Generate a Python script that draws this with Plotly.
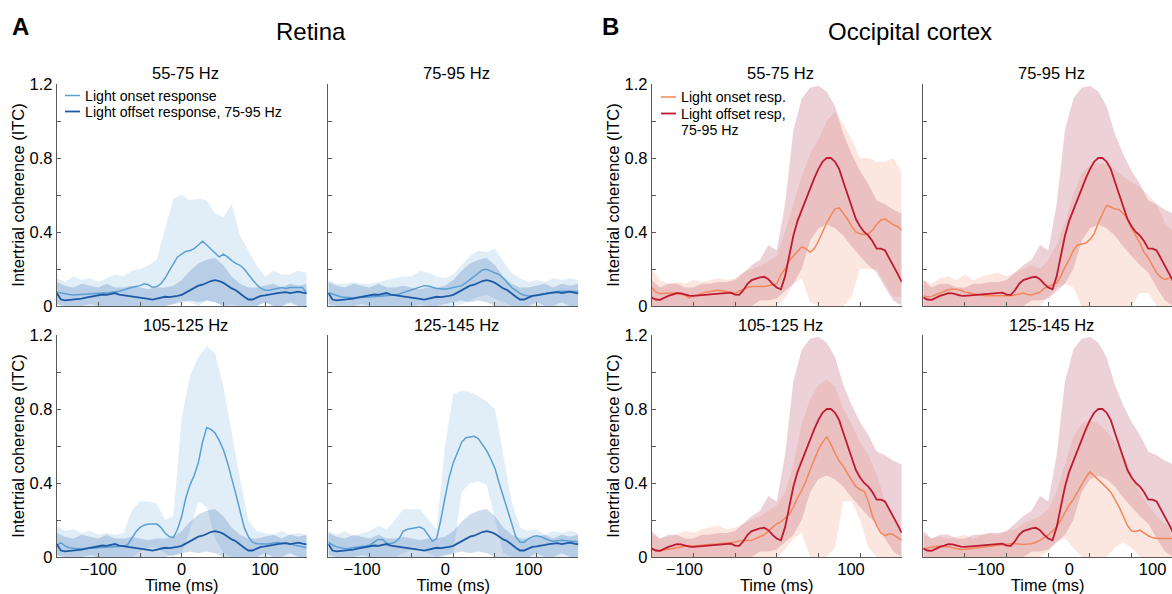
import plotly.graph_objects as go

# ---------------- data (time in ms, ITC values) ----------------
T5 = list(range(-150, 151, 5))     # grid of mean curves
T10 = list(range(-150, 151, 10))   # grid of band edges

# Retina: light-offset response (75-95 Hz), shown in every retina panel
RET_OFF_MEAN = [0.07, 0.035, 0.03, 0.032, 0.035, 0.038, 0.04, 0.045, 0.05, 0.055,
                0.06, 0.062, 0.06, 0.065, 0.07, 0.062, 0.058, 0.055, 0.05, 0.048,
                0.045, 0.04, 0.038, 0.035, 0.04, 0.045, 0.05, 0.048, 0.05, 0.055,
                0.06, 0.072, 0.085, 0.1, 0.11, 0.115, 0.125, 0.135, 0.14, 0.135,
                0.125, 0.11, 0.095, 0.085, 0.065, 0.05, 0.035, 0.035, 0.045, 0.055,
                0.058, 0.06, 0.065, 0.07, 0.072, 0.075, 0.07, 0.075, 0.078, 0.072,
                0.068]
RET_OFF_HI = [0.13, 0.11, 0.10, 0.12, 0.11, 0.10, 0.12, 0.10, 0.10, 0.11,
              0.10, 0.09, 0.10, 0.10, 0.11, 0.14, 0.19, 0.23, 0.25, 0.26,
              0.22, 0.16, 0.12, 0.10, 0.10, 0.11, 0.12, 0.10, 0.12, 0.11, 0.12]
RET_OFF_LO = [0.01, 0, 0, 0, 0.01, 0, 0, 0, 0, 0,
              0, 0, 0, 0, 0.01, 0.02, 0.03, 0.02, 0.03, 0.02,
              0, 0, 0, 0, 0, 0.02, 0, 0, 0.02, 0, 0]

# Retina: light-onset responses per band
RET_ON_55_MEAN = [0.075, 0.07, 0.065, 0.062, 0.06, 0.062, 0.062, 0.064, 0.065, 0.067,
                  0.068, 0.07, 0.07, 0.072, 0.075, 0.08, 0.086, 0.095, 0.1, 0.105,
                  0.11, 0.12, 0.115, 0.1, 0.105, 0.12, 0.15, 0.19, 0.23, 0.265,
                  0.28, 0.295, 0.3, 0.31, 0.33, 0.35, 0.33, 0.31, 0.29, 0.265,
                  0.28, 0.265, 0.245, 0.23, 0.22, 0.2, 0.17, 0.14, 0.115, 0.095,
                  0.085, 0.085, 0.09, 0.095, 0.1, 0.095, 0.1, 0.1, 0.1, 0.1,
                  0.07]
RET_ON_55_HI = [0.15, 0.13, 0.16, 0.14, 0.15, 0.13, 0.15, 0.17, 0.16, 0.19,
                0.2, 0.22, 0.25, 0.42, 0.58, 0.6, 0.57, 0.58, 0.57, 0.5,
                0.48, 0.55, 0.38, 0.3, 0.22, 0.16, 0.19, 0.17, 0.17, 0.19, 0.18]
RET_ON_55_LO = [0.01, 0, 0, 0, 0, 0, 0, 0, 0, 0,
                0, 0, 0, 0, 0.01, 0.03, 0.02, 0, 0.03, 0.02,
                0, 0.01, 0, 0, 0, 0.02, 0, 0, 0.01, 0, 0]

RET_ON_75_MEAN = [0.072, 0.065, 0.055, 0.05, 0.047, 0.045, 0.045, 0.046, 0.045, 0.047,
                  0.048, 0.05, 0.05, 0.05, 0.052, 0.055, 0.06, 0.065, 0.072, 0.08,
                  0.088, 0.095, 0.1, 0.11, 0.108, 0.1, 0.095, 0.093, 0.09, 0.095,
                  0.1, 0.105, 0.11, 0.125, 0.143, 0.16, 0.18, 0.195, 0.198, 0.19,
                  0.182, 0.17, 0.15, 0.125, 0.1, 0.085, 0.068, 0.058, 0.054, 0.056,
                  0.06, 0.065, 0.07, 0.072, 0.075, 0.078, 0.08, 0.08, 0.08, 0.078,
                  0.078]
RET_ON_75_HI = [0.14, 0.12, 0.12, 0.13, 0.12, 0.12, 0.13, 0.14, 0.15, 0.16,
                0.16, 0.19, 0.18, 0.16, 0.15, 0.17, 0.22, 0.27, 0.3, 0.29,
                0.31, 0.24, 0.18, 0.15, 0.13, 0.14, 0.13, 0.15, 0.14, 0.15, 0.14]
RET_ON_75_LO = [0, 0, 0, 0, 0, 0, 0, 0, 0, 0,
                0, 0.01, 0, 0, 0, 0, 0.01, 0.03, 0.05, 0.06,
                0.04, 0.02, 0, 0, 0, 0, 0, 0, 0, 0, 0]

RET_ON_105_MEAN = [0.063, 0.078, 0.06, 0.05, 0.047, 0.045, 0.045, 0.046, 0.047, 0.05,
                   0.052, 0.054, 0.055, 0.055, 0.056, 0.057, 0.06, 0.065, 0.1, 0.135,
                   0.16, 0.172, 0.178, 0.18, 0.178, 0.16, 0.13, 0.11, 0.105, 0.15,
                   0.22, 0.32, 0.39, 0.44, 0.51, 0.62, 0.70, 0.69, 0.67, 0.63,
                   0.58, 0.51, 0.43, 0.34, 0.25, 0.16, 0.11, 0.08, 0.072, 0.07,
                   0.07, 0.072, 0.075, 0.078, 0.075, 0.073, 0.072, 0.065, 0.058, 0.055,
                   0.05]
RET_ON_105_HI = [0.17, 0.14, 0.15, 0.13, 0.14, 0.12, 0.13, 0.12, 0.13, 0.25,
                 0.3, 0.3, 0.29, 0.2, 0.22, 0.75, 0.98, 1.08, 1.14, 1.1,
                 0.92, 0.66, 0.42, 0.2, 0.14, 0.13, 0.12, 0.14, 0.12, 0.13, 0.12]
RET_ON_105_LO = [0, 0, 0, 0, 0, 0, 0, 0, 0, 0,
                 0.03, 0.05, 0.05, 0.02, 0, 0.02, 0.15, 0.3, 0.27, 0.1,
                 0.02, 0, 0, 0, 0, 0, 0, 0, 0, 0, 0]

RET_ON_125_MEAN = [0.08, 0.065, 0.055, 0.048, 0.045, 0.047, 0.05, 0.052, 0.055, 0.06,
                   0.065, 0.08, 0.095, 0.095, 0.075, 0.072, 0.08, 0.1, 0.14, 0.15,
                   0.153, 0.158, 0.162, 0.15, 0.12, 0.085, 0.1, 0.2, 0.32, 0.43,
                   0.51, 0.57, 0.62, 0.645, 0.65, 0.652, 0.64, 0.61, 0.575, 0.53,
                   0.48, 0.4, 0.33, 0.25, 0.18, 0.11, 0.08, 0.08, 0.098, 0.11,
                   0.115, 0.11, 0.1, 0.09, 0.085, 0.088, 0.09, 0.088, 0.085, 0.083,
                   0.083]
RET_ON_125_HI = [0.14, 0.12, 0.14, 0.11, 0.13, 0.14, 0.17, 0.15, 0.2, 0.26,
                 0.26, 0.26, 0.2, 0.15, 0.6, 0.88, 0.9, 0.89, 0.87, 0.84,
                 0.8, 0.55, 0.3, 0.16, 0.14, 0.15, 0.12, 0.14, 0.13, 0.14, 0.13]
RET_ON_125_LO = [0, 0, 0, 0, 0, 0, 0, 0, 0, 0.02,
                 0.04, 0.05, 0.02, 0, 0, 0.02, 0.35, 0.4, 0.41, 0.39,
                 0.2, 0.02, 0, 0, 0, 0, 0, 0, 0, 0, 0]

# Occipital cortex: light-offset response (75-95 Hz), shown in every cortex panel
OCC_OFF_MEAN = [0.045, 0.035, 0.033, 0.045, 0.055, 0.062, 0.07, 0.068, 0.062, 0.056,
                0.055, 0.057, 0.058, 0.06, 0.062, 0.064, 0.066, 0.068, 0.07, 0.072,
                0.062, 0.06, 0.085, 0.12, 0.14, 0.148, 0.155, 0.158, 0.145, 0.12,
                0.1, 0.09, 0.16, 0.27, 0.38, 0.46, 0.52, 0.58, 0.63, 0.69,
                0.74, 0.78, 0.8, 0.8, 0.78, 0.74, 0.67, 0.6, 0.54, 0.47,
                0.43, 0.4, 0.38, 0.35, 0.31, 0.31, 0.3, 0.26, 0.22, 0.175,
                0.13]
OCC_OFF_HI = [0.14, 0.1, 0.12, 0.12, 0.1, 0.1, 0.12, 0.12, 0.13, 0.13,
              0.14, 0.18, 0.22, 0.25, 0.33, 0.3, 0.55, 0.95, 1.12, 1.18,
              1.19, 1.16, 1.08, 0.93, 0.82, 0.73, 0.66, 0.57, 0.55, 0.52, 0.5]
OCC_OFF_LO = [0, 0, 0, 0, 0, 0, 0, 0, 0, 0,
              0, 0, 0, 0.03, 0.03, 0.04, 0.08, 0.12, 0.2, 0.35,
              0.42, 0.44, 0.42, 0.38, 0.32, 0.27, 0.22, 0.18, 0.1, 0.03, 0]

# Occipital cortex: light-onset responses per band
OCC_ON_55_MEAN = [0.1, 0.075, 0.068, 0.068, 0.07, 0.072, 0.07, 0.065, 0.058, 0.045,
                  0.055, 0.06, 0.068, 0.075, 0.078, 0.08, 0.085, 0.082, 0.077, 0.07,
                  0.068, 0.08, 0.09, 0.1, 0.105, 0.105, 0.103, 0.105, 0.11, 0.115,
                  0.12, 0.17, 0.2, 0.245, 0.27, 0.3, 0.32, 0.31, 0.29, 0.31,
                  0.35, 0.4, 0.45, 0.49, 0.525, 0.53, 0.5, 0.47, 0.43, 0.4,
                  0.39, 0.385, 0.39, 0.41, 0.44, 0.465, 0.47, 0.455, 0.44, 0.43,
                  0.41]
OCC_ON_55_HI = [0.2, 0.14, 0.12, 0.13, 0.12, 0.14, 0.13, 0.14, 0.15, 0.14,
                0.15, 0.18, 0.2, 0.22, 0.24, 0.27, 0.4, 0.55, 0.7, 0.82,
                0.9, 1.0, 1.05, 0.98, 0.9, 0.8, 0.8, 0.78, 0.78, 0.8, 0.72]
OCC_ON_55_LO = [0, 0, 0, 0, 0, 0, 0, 0, 0, 0,
                0, 0, 0, 0, 0, 0, 0.04, 0.12, 0.15, 0.02,
                0, 0, 0, 0, 0.05, 0.2, 0.2, 0.2, 0.12, 0.05, 0.05]

OCC_ON_75_MEAN = [0.054, 0.05, 0.052, 0.062, 0.072, 0.082, 0.088, 0.09, 0.09, 0.085,
                  0.075, 0.07, 0.065, 0.062, 0.058, 0.055, 0.056, 0.057, 0.056, 0.055,
                  0.056, 0.055, 0.06, 0.068, 0.07, 0.062, 0.06, 0.068, 0.075, 0.095,
                  0.105, 0.112, 0.125, 0.16, 0.21, 0.25, 0.3, 0.33, 0.335, 0.34,
                  0.36, 0.39, 0.45, 0.5, 0.545, 0.535, 0.525, 0.52, 0.5, 0.47,
                  0.42, 0.38, 0.34, 0.29, 0.26, 0.22, 0.18, 0.155, 0.143, 0.15,
                  0.16]
OCC_ON_75_HI = [0.14, 0.12, 0.15, 0.16, 0.14, 0.17, 0.14, 0.16, 0.17, 0.18,
                0.16, 0.18, 0.2, 0.22, 0.2, 0.25, 0.33, 0.45, 0.6, 0.72,
                0.76, 0.77, 0.77, 0.74, 0.7, 0.67, 0.64, 0.6, 0.55, 0.45, 0.4]
OCC_ON_75_LO = [0, 0, 0, 0, 0, 0, 0, 0, 0, 0,
                0, 0, 0, 0, 0, 0.05, 0.1, 0.12, 0.1, 0,
                0, 0, 0, 0, 0, 0, 0.07, 0.07, 0, 0, 0]

OCC_ON_105_MEAN = [0.05, 0.035, 0.034, 0.038, 0.042, 0.045, 0.048, 0.055, 0.06, 0.062,
                   0.06, 0.062, 0.063, 0.064, 0.065, 0.067, 0.07, 0.072, 0.073, 0.075,
                   0.08, 0.088, 0.09, 0.088, 0.09, 0.1, 0.11, 0.12, 0.14, 0.16,
                   0.18, 0.19, 0.21, 0.23, 0.27, 0.32, 0.36, 0.41, 0.47, 0.53,
                   0.58, 0.62, 0.65, 0.61, 0.56, 0.52, 0.49, 0.45, 0.415, 0.38,
                   0.365, 0.355, 0.3, 0.22, 0.17, 0.13, 0.115, 0.125, 0.12, 0.105,
                   0.09]
OCC_ON_105_HI = [0.12, 0.1, 0.11, 0.12, 0.14, 0.13, 0.15, 0.16, 0.17, 0.15,
                 0.16, 0.18, 0.2, 0.22, 0.25, 0.28, 0.35, 0.5, 0.72, 0.85,
                 0.93, 0.96, 0.92, 0.8, 0.72, 0.62, 0.55, 0.45, 0.3, 0.2, 0.15]
OCC_ON_105_LO = [0, 0, 0, 0, 0, 0, 0, 0, 0, 0,
                 0, 0, 0, 0, 0, 0, 0.04, 0.1, 0.13, 0,
                 0, 0, 0.05, 0.3, 0.3, 0.2, 0.05, 0, 0, 0, 0]

OCC_ON_125_MEAN = [0.045, 0.05, 0.055, 0.057, 0.058, 0.058, 0.056, 0.05, 0.045, 0.04,
                   0.042, 0.045, 0.047, 0.05, 0.052, 0.055, 0.058, 0.06, 0.063, 0.066,
                   0.068, 0.072, 0.072, 0.068, 0.068, 0.07, 0.072, 0.08, 0.09, 0.105,
                   0.12, 0.14, 0.165, 0.2, 0.24, 0.28, 0.31, 0.35, 0.39, 0.43,
                   0.46, 0.44, 0.42, 0.395, 0.375, 0.35, 0.31, 0.27, 0.22, 0.17,
                   0.14, 0.138, 0.145, 0.13, 0.115, 0.105, 0.1, 0.1, 0.1, 0.1,
                   0.1]
OCC_ON_125_HI = [0.12, 0.1, 0.11, 0.1, 0.11, 0.12, 0.1, 0.12, 0.13, 0.12,
                 0.14, 0.15, 0.18, 0.2, 0.22, 0.26, 0.35, 0.5, 0.65, 0.72,
                 0.74, 0.72, 0.68, 0.62, 0.55, 0.45, 0.35, 0.28, 0.22, 0.18, 0.15]
OCC_ON_125_LO = [0, 0, 0, 0, 0, 0, 0, 0, 0, 0,
                 0, 0, 0, 0, 0, 0.03, 0.08, 0.1, 0.05, 0,
                 0, 0, 0, 0.05, 0.08, 0.05, 0, 0, 0, 0, 0]

PANEL_TITLES = ["55-75 Hz", "75-95 Hz", "105-125 Hz", "125-145 Hz"]
GROUP_TITLES = ["Retina", "Occipital cortex"]
PANEL_LETTERS = ["A", "B"]
RET_LEGEND = ["Light onset response", "Light offset response, 75-95 Hz"]
OCC_LEGEND = ["Light onset resp.", "Light offset resp,", "75-95 Hz"]
X_TICKS = [-100, -50, 0, 50, 100]
X_LABELS = [-100, 0, 100]
Y_TICKS = [0, 0.2, 0.4, 0.6, 0.8, 1.0, 1.2]
Y_LABELS = ["0", "", "0.4", "", "0.8", "", "1.2"]

# ---------------- styling ----------------
W, H = 1172, 594
FONT = "Liberation Sans, Arial, sans-serif"
AX = "#595959"
RET_ON_C, RET_ON_F = "#5b9fd3", "rgba(120,175,220,0.22)"
RET_OFF_C, RET_OFF_F = "#1d5aa6", "rgba(60,115,180,0.25)"
OCC_ON_C, OCC_ON_F = "#f3875a", "rgba(245,160,130,0.25)"
OCC_OFF_C, OCC_OFF_F = "#c01a30", "rgba(185,95,115,0.28)"

# panel pixel boxes (left, right, top, bottom)
COLS = [(56.7, 306.7), (328.3, 578.3), (651.7, 901.7), (923.3, 1173.3)]
ROWS = [(84.0, 306.0), (335.0, 557.0)]
# horizontal shift (ms) of the printed tick labels relative to the tick marks
LABEL_SHIFT = [0.0, -9.6, -10.8, 25.2]

ret_on = [(RET_ON_55_MEAN, RET_ON_55_HI, RET_ON_55_LO), (RET_ON_75_MEAN, RET_ON_75_HI, RET_ON_75_LO),
          (RET_ON_105_MEAN, RET_ON_105_HI, RET_ON_105_LO), (RET_ON_125_MEAN, RET_ON_125_HI, RET_ON_125_LO)]
occ_on = [(OCC_ON_55_MEAN, OCC_ON_55_HI, OCC_ON_55_LO), (OCC_ON_75_MEAN, OCC_ON_75_HI, OCC_ON_75_LO),
          (OCC_ON_105_MEAN, OCC_ON_105_HI, OCC_ON_105_LO), (OCC_ON_125_MEAN, OCC_ON_125_HI, OCC_ON_125_LO)]

fig = go.Figure()
layout = dict(width=W, height=H, margin=dict(l=0, r=0, t=0, b=0, autoexpand=False),
              autosize=False,
              paper_bgcolor="white", plot_bgcolor="white", showlegend=False,
              font=dict(family=FONT, color="black", size=16))
annotations, shapes = [], []


def band(x, hi, lo, color, xa, ya):
    fig.add_trace(go.Scatter(x=list(x) + list(x)[::-1], y=list(hi) + list(lo)[::-1],
                             fill="toself", fillcolor=color, line=dict(width=0),
                             mode="lines", hoverinfo="skip", xaxis=xa, yaxis=ya))


def line(x, y, color, width, xa, ya):
    fig.add_trace(go.Scatter(x=x, y=y, mode="lines", line=dict(color=color, width=width),
                             hoverinfo="skip", xaxis=xa, yaxis=ya))


idx = 0
for g in range(2):
    onsets = ret_on if g == 0 else occ_on
    off = (RET_OFF_MEAN, RET_OFF_HI, RET_OFF_LO) if g == 0 else (OCC_OFF_MEAN, OCC_OFF_HI, OCC_OFF_LO)
    con, fon, coff, foff = ((RET_ON_C, RET_ON_F, RET_OFF_C, RET_OFF_F) if g == 0
                            else (OCC_ON_C, OCC_ON_F, OCC_OFF_C, OCC_OFF_F))
    for p in range(4):
        idx += 1
        r, c = p // 2, p % 2
        col = g * 2 + c
        xl, xr = COLS[col]
        yt, yb = ROWS[r]
        xa, ya = f"x{idx}", f"y{idx}"
        xr_c = min(xr, W)
        xmax = -150 + (xr_c - xl) * 300.0 / 250.0
        mean_on, hi_on, lo_on = onsets[p]
        band(T10, hi_on, lo_on, fon, xa, ya)
        band(T10, off[1], off[2], foff, xa, ya)
        line(T5, mean_on, con, 1.5, xa, ya)
        line(T5, off[0], coff, 1.8, xa, ya)

        layout[f"xaxis{idx}"] = dict(domain=[xl / W, xr_c / W], range=[-150, xmax], anchor=ya,
                                     tickvals=X_TICKS, ticktext=[""] * len(X_TICKS),
                                     ticks="inside", ticklen=4, tickcolor=AX, showline=True,
                                     linecolor=AX, linewidth=1, showgrid=False, zeroline=False)
        layout[f"yaxis{idx}"] = dict(domain=[1 - yb / H, 1 - yt / H], range=[0, 1.2], anchor=xa,
                                     tickvals=Y_TICKS,
                                     ticktext=Y_LABELS if c == 0 else [""] * len(Y_TICKS),
                                     ticks="inside", ticklen=4, tickcolor=AX, showline=True,
                                     linecolor=AX, linewidth=1, showgrid=False, zeroline=False,
                                     tickfont=dict(size=16.5))
        if c == 0:
            layout[f"yaxis{idx}"]["title"] = dict(text="Intertrial coherence (ITC)",
                                                  font=dict(size=16.5), standoff=0)
        # subplot title
        annotations.append(dict(text=PANEL_TITLES[p], x=(xl + xr) / 2 / W + 3.5 / W,
                                y=1 - (73 + r * 252) / H, xref="paper", yref="paper",
                                showarrow=False, font=dict(size=16.5), xanchor="center",
                                yanchor="middle"))

# label axes for the bottom-row time labels (shifted from the tick marks as in the source)
lab = 8
for col, base in zip(range(4), [3, 4, 7, 8]):
    lab += 1
    xl, xr = COLS[col]
    xr_c = min(xr, W)
    s = LABEL_SHIFT[col]
    lo_r = -150 - s
    hi_r = lo_r + (xr_c - xl) * 300.0 / 250.0
    layout[f"xaxis{lab}"] = dict(overlaying=f"x{base}", anchor=f"y{base}", range=[lo_r, hi_r],
                                 tickvals=X_LABELS, ticks="", showline=False, showgrid=False,
                                 zeroline=False, side="bottom", tickfont=dict(size=16.5),
                                 title=dict(text="Time (ms)", font=dict(size=16.5), standoff=0))
    fig.add_trace(go.Scatter(x=[0], y=[-5], mode="markers", marker=dict(opacity=0),
                             hoverinfo="skip", xaxis=f"x{lab}", yaxis=f"y{base}"))

# group titles and panel letters
for g, (cx, lx) in enumerate([(311, 20), (910, 610)]):
    annotations.append(dict(text=GROUP_TITLES[g], x=cx / W, y=1 - 31 / H, xref="paper",
                            yref="paper", showarrow=False, font=dict(size=24),
                            xanchor="center", yanchor="middle"))
    annotations.append(dict(text="<b>" + PANEL_LETTERS[g] + "</b>", x=lx / W, y=1 - 26 / H,
                            xref="paper", yref="paper", showarrow=False, font=dict(size=24),
                            xanchor="center", yanchor="middle"))

# legends
def legend_item(x0, y, color, width, text):
    shapes.append(dict(type="line", xref="paper", yref="paper", x0=x0 / W, x1=(x0 + 15) / W,
                       y0=1 - y / H, y1=1 - y / H, line=dict(color=color, width=width)))
    annotations.append(dict(text=text, x=(x0 + 18) / W, y=1 - y / H, xref="paper", yref="paper",
                            showarrow=False, font=dict(size=14.2), xanchor="left",
                            yanchor="middle"))

legend_item(65, 95.5, RET_ON_C, 1.5, RET_LEGEND[0])
legend_item(65, 111.5, RET_OFF_C, 1.8, RET_LEGEND[1])
legend_item(661, 97, OCC_ON_C, 1.5, OCC_LEGEND[0])
legend_item(661, 113.5, OCC_OFF_C, 1.8, OCC_LEGEND[1])
annotations.append(dict(text=OCC_LEGEND[2], x=679 / W, y=1 - 130 / H, xref="paper", yref="paper",
                        showarrow=False, font=dict(size=14.2), xanchor="left", yanchor="middle"))

layout["annotations"] = annotations
layout["shapes"] = shapes
fig.update_layout(**layout)
fig.write_html("out.html", config={"displayModeBar": False},
               post_script="document.body.style.margin='0';document.body.style.overflow='hidden';")
